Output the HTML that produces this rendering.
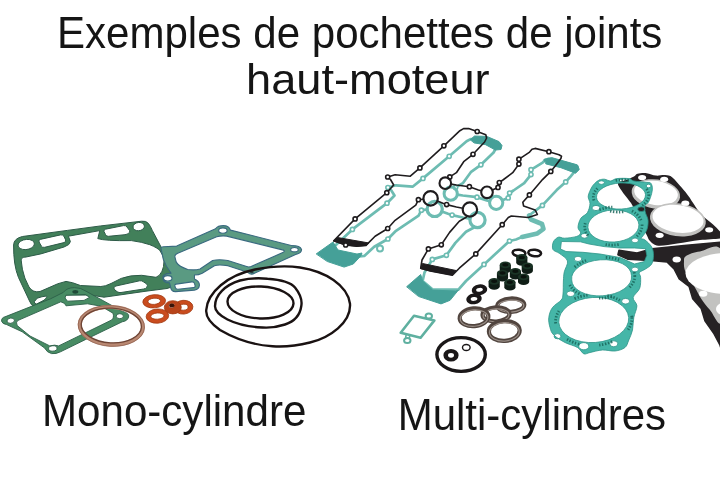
<!DOCTYPE html>
<html><head><meta charset="utf-8">
<style>
html,body{margin:0;padding:0;background:#fff;}
body{width:720px;height:490px;overflow:hidden;position:relative;font-family:"Liberation Sans",sans-serif;color:#151515;}
.t{position:absolute;white-space:nowrap;line-height:1;transform-origin:0 0;}
svg{position:absolute;left:0;top:0;filter:blur(0.3px);}
</style></head><body>
<svg width="720" height="490" viewBox="0 0 720 490">
<!--LEFT-->
<g id="left">
 <!-- base gasket (orig coords) -->
 <g fill="#42805a" stroke="#2d5a47" stroke-width="1" fill-rule="evenodd" stroke-linejoin="round">
  <path d="M13.6,245 Q13.8,238.5 22.4,236.5 L67.3,230.4 L100.8,225.9 L141.6,221.2 Q146,220.6 148.3,223.3 Q150.5,226 152.3,230.4 L162,248.8 L168,265 L172.9,279 Q174,287.5 167,288.5 L146,291.2 L109,296.5 L104,297.2 L90,295 L66,295 L42,306 Q32.5,309.5 29.5,301 L18.4,277.3 Q13.4,265 13.6,245 Z
   M21.4,262 C21,258 22,257.5 26,257 L40.8,253.9 L64,247 Q70,245 70.4,241.6 L68.4,236.2 L99.8,230.6 L97.8,238.6 Q105,241 131.4,240.6 Q142,242 149.8,244.7 Q158,248 160,250.8 Q164,256 164,261 Q164,267 162,271.2 Q160,276 156,277.3 L141.6,275.3 Q130,275 121.2,278.4 L111,283.5 Q105,286.5 100.8,286.5 L80.4,285.5 Q72,282 66,281.4 Q58,283 49,287.6 L40,291.5 Q33,293 29,287 Q24,278 22.4,269.2 Z
   M18,245 a8.2,5 -8 1,0 16.4,-1 a8.2,5 -8 1,0 -16.4,1 Z
   M40.2,239.4 L60.5,234.9 Q63,234.5 64,236.4 L65.6,239.9 Q66.3,241.9 64,242.6 L44.7,247.3 Q42.2,247.8 41.3,246 L39.1,242 Q38.3,240 40.2,239.4 Z
   M105.5,229.2 L123.5,225.6 Q126,225.2 127,227 L129.6,230.6 Q130.4,232.4 128.3,233.4 Q127.6,234.2 125,234.7 L108.5,236.3 Q106.2,236.5 105.5,234.5 L104,231.5 Q103.5,229.7 105.5,229.2 Z
   M133,227 a5.7,4.1 -8 1,0 11.4,-0.8 a5.7,4.1 -8 1,0 -11.4,0.8 Z
   M116,286 L139.6,280.8 Q142,280.4 143.4,281.8 L146.8,284 Q148,285.4 146.8,287.2 Q146,288.6 143.7,289 L121,292.5 Q118.8,292.8 117.4,291.8 L115,290.2 Q113.6,288.4 114.2,287.2 Q114.6,286.3 116,286 Z
   M163.2,278 a6,4.2 -5 1,0 12,-0.8 a6,4.2 -5 1,0 -12,0.8 Z
   M34.2,301.8 L37.2,298.2 Q42,296.4 46.6,296 Q47.4,297 44,300.2 L36.6,304 Q34.6,304 34.2,301.8 Z"/>
 </g>
 <!-- right gasket: s=4.5 off(150,215) -->
 <g transform="translate(150,215) scale(0.222222)" fill="#5a9a82" stroke="#3a6a80" stroke-width="5" fill-rule="evenodd" stroke-linejoin="round">
  <path d="M50,152 Q48,142 62,143 L120,140 L295,62 Q305,48 330,48 Q355,48 362,68 L640,138 Q675,138 682,155 Q682,170 660,176 L470,262 Q455,272 440,258 L350,228 Q310,222 290,228 L235,262 Q220,270 200,270 L200,288 Q225,300 222,318 Q220,335 200,338 L115,345 Q95,345 92,322 L88,305 Q60,305 58,285 Q56,270 75,265 L95,262 Q70,230 60,200 Z
  M112,188 Q110,178 125,172 L300,98 Q320,92 345,95 L600,158 Q610,162 600,168 L455,232 Q445,236 435,232 L350,205 Q310,198 282,205 L225,243 Q200,250 170,245 Q130,232 118,212 Z
  M309,70 a19,12 0 1,0 38,0 a19,12 0 1,0 -38,0 Z
  M633,156 a17,10 0 1,0 34,0 a17,10 0 1,0 -34,0 Z
  M61,285 a19,12 0 1,0 38,0 a19,12 0 1,0 -38,0 Z
  M118,311 L188,301 Q198,300 200,308 L203,318 Q204,326 195,327 L126,334 Q116,335 114,327 L112,319 Q111,312 118,311 Z"/>
  <ellipse cx="458" cy="257" rx="9" ry="5" fill="#2a3a40" stroke="none"/>
 </g>
 <!-- lower-left light gasket (orig coords) -->
 <g fill="#488c64" stroke="#2c5f48" stroke-width="0.9" fill-rule="evenodd" stroke-linejoin="round">
  <path d="M1.6,321.2 Q1.2,317.8 5,316.8 L50.5,298.8 L63.3,292.4 Q67,287.6 74.4,287.6 Q81,287.6 86,291.2 L122.5,311.4 Q129.6,313 128.6,317 Q127.6,321 122.2,321.8 L85.6,339.5 L60.5,351.8 Q56,354.2 51.5,353.6 Q47,352.6 44.6,348 L22.2,331.8 L6.7,324.6 Q2.2,323.8 1.6,321.2 Z
  M17.6,320.6 L60.8,301.8 L64.5,303.4 L66,305.8 L87.5,303.8 L101,306.2 L113,313.2 Q114.4,317.8 111.6,320 L82.6,334.2 L58.6,345.9 Q55,344.4 49.8,345.9 L30,336 L17.2,325.6 Q15.6,322.4 17.6,320.6 Z
  M66,295.2 L85.6,294.6 L89.5,297.4 L84,300.4 L67.5,301.2 L65,298 Z M7,321 a3.7,2.6 -10 1,0 7.4,-0.6 a3.7,2.6 -10 1,0 -7.4,0.6 Z
  M116.2,316.2 a3.6,2.5 0 1,0 7.2,0 a3.6,2.5 0 1,0 -7.2,0 Z
  M48.6,348.7 a4.2,2.7 -5 1,0 8.4,-0.5 a4.2,2.7 -5 1,0 -8.4,0.5 Z"/>
  <ellipse cx="75.3" cy="291.8" rx="3" ry="1.9" fill="#1f4a38" stroke="none"/>
 </g>
 <!-- copper ring: s=6 off(60,290) -->
 <g transform="translate(60,290) scale(0.166667)" fill="none">
  <ellipse cx="308" cy="215" rx="190" ry="113" stroke="#b98872" stroke-width="24" transform="rotate(3 308 215)"/>
  <ellipse cx="308" cy="213" rx="181" ry="104" stroke="#6f4536" stroke-width="8" transform="rotate(3 308 215)"/>
  <ellipse cx="308" cy="216" rx="199" ry="122" stroke="#8a5a48" stroke-width="4" transform="rotate(3 308 215)"/>
 </g>
 <!-- washers (orig coords) -->
 <g fill="#ca4c1e" stroke="#a23a12" stroke-width="0.8" fill-rule="evenodd">
  <path d="M174.1,307.2 a9.4,6.9 0 1,0 18.8,0 a9.4,6.9 0 1,0 -18.8,0 Z M178.9,307.2 a4.6,3.0 0 1,0 9.2,0 a4.6,3.0 0 1,0 -9.2,0 Z" transform="rotate(-4 183.5 307.2)"/>
  <path d="M164.3,307.3 a8.5,6.6 0 1,0 17.0,0 a8.5,6.6 0 1,0 -17.0,0 Z M168.8,305.8 a3,2.2 0 1,0 6.0,0 a3,2.2 0 1,0 -6.0,0 Z" fill="#b8441a"/>
  <ellipse cx="171.8" cy="305.6" rx="2.6" ry="2" fill="#3a1408" stroke="none"/>
  <path d="M142.8,301.3 a11.4,6.6 0 1,0 22.8,0 a11.4,6.6 0 1,0 -22.8,0 Z M147.9,301.3 a6.3,3.1 0 1,0 12.6,0 a6.3,3.1 0 1,0 -12.6,0 Z" transform="rotate(-5 154.2 301.3)"/>
  <path d="M146.1,316.1 a11.3,7.1 0 1,0 22.6,0 a11.3,7.1 0 1,0 -22.6,0 Z M150.8,316.1 a6.6,3.1 0 1,0 13.2,0 a6.6,3.1 0 1,0 -13.2,0 Z" transform="rotate(-4 157.4 316.1)"/>
 </g>
 <!-- o-rings: s=4 off(190,250) -->
 <g transform="translate(190,250) scale(0.25)" fill="none" stroke="#1a1212" stroke-width="9.5">
  <path d="M65,240 C70,170 150,100 260,78 C320,66 390,62 440,70 C540,85 630,140 640,215 C645,290 560,350 480,370 C420,385 370,388 330,385 C250,380 180,355 120,320 C85,295 62,270 65,240 Z"/>
  <path d="M100,225 C100,180 140,140 200,122 C240,112 280,112 310,115 C350,118 400,125 420,150 C440,175 450,200 445,225 C440,260 420,285 380,298 C350,308 320,312 290,310 C240,308 190,298 150,278 C115,260 100,245 100,225 Z"/>
  <ellipse cx="282" cy="210" rx="132" ry="64" transform="rotate(2 282 210)"/>
 </g>
</g>
<!--RIGHT-->
<g id="right">
<!--R1-->
<g id="vc-teal" stroke="#6dbcb2" fill="none" stroke-linejoin="round" stroke-linecap="round">
<path d="M329.2,251.3 L352.4,229.4 L387.0,203.2 L394.5,195.5 L391.0,190.0 L387.9,187.5 L396.0,185.3 L412.6,186.7 L423.0,178.4 L449.2,156.3 L466.6,141.2 L470.6,139.1 L476.1,139.1 L485.5,142.0 L494.9,145.2 L495.7,148.5 L493.6,152.5 L480.9,164.8 L470.8,172.2 L462.8,183.2 L455.6,187.4 L454.8,188.5 M457.3,194.7 L462.8,195.5 L477.0,197.2 L486.8,200.4 L489.8,201.2 M502.3,200.3 L508.2,197.9 L509.6,193.0 L513.5,190.5 L524.2,183.2 L531.0,174.6 L531.0,169.7 L534.9,167.3 L542.6,162.6 L545.2,159.8 L548.6,158.9 L563.7,162.2 L574.7,165.3 L577.4,166.8 L576.7,169.0 L570.7,176.3 L565.7,181.9 L556.7,190.1 L542.4,205.4 L529.0,215.5 L531.0,219.5 L542.0,224.0 L543.5,229.0 L537.4,233.4 L522.0,237.0 L516.0,239.5 L509.5,241.0 L484.0,264.4 L466.0,281.0 L458.4,289.6 L432.7,289.6 L422.6,281.0 L424.5,272.5 L432.3,259.4 L446.4,255.3 L455.4,242.9 L466.0,231.8 L473.5,227.7 L474.0,226.7 M470.0,218.7 L462.8,217.5 L452.1,215.1 L448.1,213.8 L441.8,211.5 M427.1,209.6 L421.4,210.2 L418.6,215.6 L396.0,230.8 L387.9,239.0 L374.2,246.7 L364.3,255.9 L354.3,256.8 L342.2,255.5 L329.2,251.3" stroke-width="2.7"/>
<path d="M316.5,253.7 L333,242 L338,250 L357,254 L362,253 L360.7,256 L353.3,264 L344.1,267.1 L327.6,261.6 Z" fill="#45a098" stroke="#45a098" stroke-width="1" stroke-linejoin="round"/>
<path d="M470.5,139.5 L474.5,136 L486.8,136.4 L499,141.6 L502,145.5 L501,149.5 L495.4,150 L485.6,144.7 L474.5,143 Z" fill="#45a098" stroke="#45a098" stroke-width="1" stroke-linejoin="round"/>
<path d="M544.3,159.4 L551.7,157.6 L577.4,164.9 L579.3,169.5 L575.6,173.2 L560.9,167.7 L546.2,164 Z" fill="#45a098" stroke="#45a098" stroke-width="1" stroke-linejoin="round"/>
<path d="M406.9,286.5 L420.7,274.5 L422.6,281 L429.9,287.4 L432.7,290.1 L455.7,291.1 L458.4,290.1 L450.1,300.3 L441,303.9 L418.9,296.6 Z" fill="#45a098" stroke="#45a098" stroke-width="1" stroke-linejoin="round"/>
<path d="M529,215.5 L531,219.5 L542,224 L543.5,229 L537.4,233.4 L522,237" stroke-width="4.6"/>
<circle cx="380" cy="248.4" r="3" fill="#fff" stroke-width="2"/>
<circle cx="352.4" cy="229.4" r="2.05" fill="#fff" stroke-width="1.6"/>
<circle cx="387.0" cy="203.2" r="2.05" fill="#fff" stroke-width="1.6"/>
<circle cx="387.9" cy="187.5" r="2.05" fill="#fff" stroke-width="1.6"/>
<circle cx="423.0" cy="178.4" r="2.05" fill="#fff" stroke-width="1.6"/>
<circle cx="449.2" cy="156.3" r="2.05" fill="#fff" stroke-width="1.6"/>
<circle cx="480.9" cy="164.8" r="2.05" fill="#fff" stroke-width="1.6"/>
<circle cx="455.6" cy="187.4" r="2.05" fill="#fff" stroke-width="1.6"/>
<circle cx="450.7" cy="193.7" r="6.6" stroke-width="3"/>
<circle cx="477.0" cy="197.2" r="2.05" fill="#fff" stroke-width="1.6"/>
<circle cx="496.2" cy="202.8" r="6.6" stroke-width="3"/>
<circle cx="508.2" cy="197.9" r="2.05" fill="#fff" stroke-width="1.6"/>
<circle cx="509.6" cy="193.0" r="2.05" fill="#fff" stroke-width="1.6"/>
<circle cx="531.0" cy="174.6" r="2.05" fill="#fff" stroke-width="1.6"/>
<circle cx="531.0" cy="169.7" r="2.05" fill="#fff" stroke-width="1.6"/>
<circle cx="565.7" cy="181.9" r="2.05" fill="#fff" stroke-width="1.6"/>
<circle cx="542.4" cy="205.4" r="2.05" fill="#fff" stroke-width="1.6"/>
<circle cx="509.5" cy="241.0" r="2.05" fill="#fff" stroke-width="1.6"/>
<circle cx="484.0" cy="264.4" r="2.05" fill="#fff" stroke-width="1.6"/>
<circle cx="432.3" cy="259.4" r="2.05" fill="#fff" stroke-width="1.6"/>
<circle cx="446.4" cy="255.3" r="2.05" fill="#fff" stroke-width="1.6"/>
<circle cx="477.5" cy="220.0" r="7.6" stroke-width="3.2"/>
<circle cx="452.1" cy="215.1" r="2.05" fill="#fff" stroke-width="1.6"/>
<circle cx="434.7" cy="208.9" r="7.6" stroke-width="3.2"/>
<circle cx="421.4" cy="210.2" r="2.05" fill="#fff" stroke-width="1.6"/>
<circle cx="387.9" cy="239.0" r="2.05" fill="#fff" stroke-width="1.6"/>
</g>
<g id="vc-black" stroke="#1f1c1e" fill="none" stroke-linejoin="round" stroke-linecap="round">
<path d="M333.8,240.8 L355.1,218.9 L386.8,192.7 L393.7,185.0 L390.5,179.5 L387.7,177.0 L395.1,174.8 L410.3,176.2 L419.9,167.9 L443.9,145.8 L459.9,130.7 L463.5,128.6 L468.6,128.6 L477.2,131.5 L485.8,134.7 L486.6,138.0 L484.6,142.0 L473.0,154.3 L463.7,161.7 L456.4,172.7 L449.8,176.9 L448.7,178.5 M451.0,184.1 L456.4,185.0 L469.4,186.7 L478.4,189.9 L481.4,190.7 M492.3,189.9 L498.0,187.4 L499.3,182.5 L502.9,180.0 L512.7,172.7 L518.9,164.1 L518.9,159.2 L522.5,156.8 L529.6,152.1 L532.0,149.3 L535.1,148.4 L548.9,151.7 L559.0,154.8 L561.5,156.3 L560.9,158.5 L555.4,165.8 L550.8,171.4 L542.5,179.6 L529.4,194.9 L522.8,202.2 L523.6,206.0 L535.1,209.9 L537.4,214.5 L528.2,217.5 L511.3,216.0 L508.3,217.5 L502.2,224.7 L475.8,253.9 L459.3,268.2 L452.4,275.1 L430.3,271.0 L420.7,268.2 L422.0,260.0 L428.4,248.9 L441.3,244.8 L449.6,232.4 L459.3,221.3 L466.2,217.2 L466.8,216.0 M462.8,208.2 L456.4,207.0 L446.6,204.6 L442.9,203.3 L437.3,201.1 M423.4,199.2 L418.4,199.7 L415.8,205.1 L395.1,220.3 L387.7,228.5 L375.1,236.2 L366.0,245.4 L356.8,246.3 L345.7,245.0 L333.8,240.8" stroke-width="1.6"/>
<path d="M333.8,240.8 L337.5,237.5 L369,243 L366,245.4 L356.8,246.3 L345.7,245 Z" fill="#1f1c1e" stroke-width="1"/>
<path d="M420.7,268.2 L422.5,263.5 L456,270.5 L452.4,275.1 L430.3,271 Z" fill="#1f1c1e" stroke-width="1"/>
<circle cx="355.1" cy="218.9" r="2.05" fill="#fff" stroke-width="1.6"/>
<circle cx="386.8" cy="192.7" r="2.05" fill="#fff" stroke-width="1.6"/>
<circle cx="387.7" cy="177.0" r="2.05" fill="#fff" stroke-width="1.6"/>
<circle cx="419.9" cy="167.9" r="2.05" fill="#fff" stroke-width="1.6"/>
<circle cx="443.9" cy="145.8" r="2.05" fill="#fff" stroke-width="1.6"/>
<circle cx="477.2" cy="131.5" r="2.05" fill="#fff" stroke-width="1.6"/>
<circle cx="473.0" cy="154.3" r="2.05" fill="#fff" stroke-width="1.6"/>
<circle cx="449.8" cy="176.9" r="2.05" fill="#fff" stroke-width="1.6"/>
<circle cx="445.3" cy="183.2" r="5.8" stroke-width="2.1"/>
<circle cx="469.4" cy="186.7" r="2.05" fill="#fff" stroke-width="1.6"/>
<circle cx="487.0" cy="192.3" r="5.8" stroke-width="2.1"/>
<circle cx="498.0" cy="187.4" r="2.05" fill="#fff" stroke-width="1.6"/>
<circle cx="499.3" cy="182.5" r="2.05" fill="#fff" stroke-width="1.6"/>
<circle cx="518.9" cy="164.1" r="2.05" fill="#fff" stroke-width="1.6"/>
<circle cx="518.9" cy="159.2" r="2.05" fill="#fff" stroke-width="1.6"/>
<circle cx="548.9" cy="151.7" r="2.05" fill="#fff" stroke-width="1.6"/>
<circle cx="550.8" cy="171.4" r="2.05" fill="#fff" stroke-width="1.6"/>
<circle cx="529.4" cy="194.9" r="2.05" fill="#fff" stroke-width="1.6"/>
<circle cx="502.2" cy="224.7" r="2.05" fill="#fff" stroke-width="1.6"/>
<circle cx="475.8" cy="253.9" r="2.05" fill="#fff" stroke-width="1.6"/>
<circle cx="428.4" cy="248.9" r="2.05" fill="#fff" stroke-width="1.6"/>
<circle cx="441.3" cy="244.8" r="2.05" fill="#fff" stroke-width="1.6"/>
<circle cx="469.9" cy="209.5" r="7.2" stroke-width="2.2"/>
<circle cx="446.6" cy="204.6" r="2.05" fill="#fff" stroke-width="1.6"/>
<circle cx="430.6" cy="198.4" r="7.2" stroke-width="2.2"/>
<circle cx="418.4" cy="199.7" r="2.05" fill="#fff" stroke-width="1.6"/>
<circle cx="387.7" cy="228.5" r="2.05" fill="#fff" stroke-width="1.6"/>
<circle cx="345.7" cy="245.0" r="2.05" fill="#fff" stroke-width="1.6"/>
</g>
<!--/R1-->
<!--R2-->
<g id="hg-black">
<path d="M618.0,183.0 C618.7,181.2 623.3,181.1 626.0,180.0 C628.7,178.9 632.1,177.5 634.0,176.5 C635.9,175.5 635.4,174.4 637.5,173.8 C639.6,173.2 643.6,172.9 646.7,173.2 C649.8,173.5 652.8,175.3 655.9,175.6 C659.0,175.9 662.4,174.8 665.1,175.1 C667.9,175.4 669.6,175.3 672.4,177.4 C675.1,179.5 678.8,184.3 681.6,187.5 C684.4,190.7 687.2,194.2 689.0,196.7 C690.8,199.1 690.5,199.1 692.6,202.2 C694.7,205.3 698.4,211.4 701.8,215.1 C705.2,218.8 709.4,221.2 712.8,224.3 C716.2,227.5 720.5,231.7 722.0,234.0 C723.5,236.3 725.7,237.0 722.0,238.0 C718.3,239.0 707.5,239.1 700.0,240.0 C692.5,240.9 684.2,242.6 677.3,243.5 C670.3,244.4 662.8,246.1 658.3,245.7 C653.8,245.3 651.9,242.8 650.0,241.0 C648.1,239.2 648.4,238.2 646.7,235.0 C645.0,231.8 642.3,226.8 640.0,222.0 C637.7,217.2 634.5,209.6 632.7,206.0 C630.9,202.4 630.8,203.1 629.0,200.6 C627.2,198.1 623.5,193.7 621.7,190.8 C619.9,187.9 617.3,184.8 618.0,183.0 Z" fill="#262224"/>
<ellipse cx="656" cy="194" rx="24.4" ry="14.6" fill="#c2c2c0" transform="rotate(8 656 193)"/>
<ellipse cx="656" cy="193" rx="22" ry="12" fill="#fff" transform="rotate(8 656 193)"/>
<ellipse cx="678" cy="219.8" rx="28.099999999999998" ry="16.400000000000002" fill="#c2c2c0" transform="rotate(8 678 218.8)"/>
<ellipse cx="678" cy="218.8" rx="25.7" ry="13.8" fill="#fff" transform="rotate(8 678 218.8)"/>
<ellipse cx="642.1" cy="177.6" rx="4" ry="2.6" fill="#fff"/>
<ellipse cx="664.2" cy="179.3" rx="4" ry="2.6" fill="#fff"/>
<ellipse cx="685.3" cy="203.2" rx="4" ry="2.6" fill="#fff"/>
<ellipse cx="709.2" cy="229.8" rx="4" ry="2.6" fill="#fff"/>
<ellipse cx="659.6" cy="235.3" rx="4" ry="2.6" fill="#fff"/>
<path d="M619,250.2 L637,253 L652,248.8 L684.1,245.6 L722,242 L722,352 L720,345.2 L713.5,333 L704.9,320.7 L701.2,308.5 L692.7,298.7 L689,286.4 L679.2,279 L674.3,269.3 L667,262 L653.5,260.7 L628,259.2 L617.9,254.7 Z" fill="#262224" stroke="#262224" stroke-width="1.5" stroke-linejoin="round"/>
<path d="M686.0,256.0 C683.3,257.8 684.2,259.8 684.0,262.0 C683.8,264.2 683.9,266.6 684.5,269.0 C685.1,271.4 686.0,273.5 687.8,276.6 C689.6,279.7 692.9,284.0 695.1,287.7 C697.3,291.4 698.8,295.0 701.2,298.7 C703.7,302.4 706.3,306.0 709.8,309.7 C713.3,313.4 720.0,330.6 722.0,321.0 C724.0,311.4 725.7,263.6 722.0,252.0 C718.3,240.4 706.0,250.8 700.0,251.5 C694.0,252.2 688.7,254.2 686.0,256.0 Z" fill="#c2c2c0"/>
<ellipse cx="727" cy="273.5" rx="41.5" ry="20.5" fill="#fff"/>
<ellipse cx="736" cy="309" rx="20" ry="9" fill="#fff"/>
<ellipse cx="676.7" cy="259.5" rx="4.2" ry="3" fill="#fff"/>
<ellipse cx="703.2" cy="293.8" rx="4.2" ry="3" fill="#fff"/>
</g>
<g id="hg-teal">
<path d="M598.3,180.6 C598.9,180.2 598.6,180.0 599.6,179.8 C600.6,179.6 602.7,179.0 604.5,179.2 C606.3,179.4 608.6,181.1 610.6,181.0 C612.6,180.9 613.7,179.0 616.8,178.6 C619.9,178.2 626.1,178.2 629.0,178.6 C631.9,179.0 631.0,180.4 633.9,181.0 C636.8,181.6 643.4,182.0 646.2,182.3 C649.0,182.6 649.5,182.1 650.5,182.9 C651.5,183.7 652.1,185.5 652.3,187.2 C652.5,188.9 652.3,190.9 651.7,193.3 C651.1,195.8 649.7,199.9 648.6,201.9 C647.5,203.9 645.6,203.8 645.0,205.5 C644.4,207.2 644.7,209.5 645.2,211.9 C645.7,214.3 647.7,217.2 648.0,220.1 C648.3,223.0 647.9,226.5 647.0,229.3 C646.1,232.1 643.4,235.2 642.4,236.7 C641.4,238.2 640.6,237.9 641.0,238.5 C641.4,239.1 643.2,238.6 645.0,240.0 C646.8,241.4 650.3,244.4 651.7,247.0 C653.1,249.6 653.5,252.6 653.5,255.4 C653.5,258.2 653.0,261.7 651.7,264.0 C650.4,266.3 647.5,267.6 645.5,269.0 C643.5,270.4 640.2,271.2 639.4,272.6 C638.6,274.0 640.5,274.7 640.6,277.3 C640.7,279.9 640.9,284.9 639.7,288.3 C638.5,291.7 633.7,294.6 633.2,297.5 C632.7,300.4 636.8,302.5 636.9,305.8 C637.0,309.1 634.5,313.5 633.8,317.5 C633.0,321.5 633.3,326.2 632.5,330.0 C631.7,333.8 630.0,337.1 628.8,340.0 C627.5,342.9 627.3,345.7 625.0,347.5 C622.7,349.3 618.8,350.6 615.0,351.0 C611.2,351.4 606.7,349.8 602.5,350.0 C598.3,350.2 593.1,351.9 590.0,352.5 C586.9,353.1 585.8,354.6 583.8,353.8 C581.7,352.9 580.6,349.4 577.5,347.5 C574.4,345.6 569.0,344.6 565.0,342.5 C561.0,340.4 556.2,337.5 553.8,335.0 C551.2,332.5 550.8,330.4 550.0,327.5 C549.2,324.6 548.3,320.8 548.8,317.5 C549.2,314.2 550.4,310.4 552.5,307.5 C554.6,304.6 559.5,302.2 561.2,300.0 C563.0,297.8 562.6,297.2 563.0,294.0 C563.4,290.8 563.2,284.7 563.4,281.0 C563.6,277.3 563.6,275.1 564.3,271.8 C565.0,268.5 568.3,264.1 567.5,261.0 C566.7,257.9 562.0,255.4 559.6,253.5 C557.2,251.6 554.0,251.5 553.0,249.6 C552.0,247.7 552.4,244.1 553.3,242.0 C554.2,239.9 556.5,237.8 558.4,237.2 C560.3,236.6 561.4,238.3 564.5,238.2 C567.6,238.1 574.1,237.3 576.8,236.4 C579.5,235.5 580.4,234.3 580.6,232.8 C580.8,231.3 578.0,229.9 578.0,227.5 C578.0,225.1 579.2,220.8 580.8,218.3 C582.3,215.9 585.8,215.2 587.3,212.8 C588.8,210.4 589.9,206.4 590.0,203.6 C590.1,200.8 587.9,199.0 588.2,196.2 C588.5,193.5 590.6,189.3 591.9,187.0 C593.2,184.7 594.8,183.4 595.9,182.3 C597.0,181.2 597.7,181.0 598.3,180.6 Z M596.5,197.3 A24.5,13 -3 1,0 645.5,194.7 A24.5,13 -3 1,0 596.5,197.3 Z M587.9,227.3 A25.5,16 -3 1,0 638.9,224.7 A25.5,16 -3 1,0 587.9,227.3 Z M571.7,279.9 A30,17.3 -4 1,0 631.5,275.7 A30,17.3 -4 1,0 571.7,279.9 Z M558.8,322.4 A35,22.5 -4 1,0 628.7,317.6 A35,22.5 -4 1,0 558.8,322.4 Z M592.0,208.0 A4,2.6 0 1,0 600.0,208.0 A4,2.6 0 1,0 592.0,208.0 Z M637.7,209.2 A3.6,2.4 0 1,0 644.9,209.2 A3.6,2.4 0 1,0 637.7,209.2 Z M598.4,182.6 A3,1.8 0 1,0 604.4,182.6 A3,1.8 0 1,0 598.4,182.6 Z M619.0,180.6 A5,1.6 0 1,0 629.0,180.6 A5,1.6 0 1,0 619.0,180.6 Z M646.2,186.0 A2.4,1.8 0 1,0 651.0,186.0 A2.4,1.8 0 1,0 646.2,186.0 Z M580.9,235.8 A3.6,2.4 0 1,0 588.1,235.8 A3.6,2.4 0 1,0 580.9,235.8 Z M631.6,240.4 A3.4,2.4 0 1,0 638.4,240.4 A3.4,2.4 0 1,0 631.6,240.4 Z M574.2,258.9 A3.8,2.6 0 1,0 581.8,258.9 A3.8,2.6 0 1,0 574.2,258.9 Z M631.6,269.5 A3.4,2.4 0 1,0 638.4,269.5 A3.4,2.4 0 1,0 631.6,269.5 Z M566.6,293.8 A4,2.8 0 1,0 574.6,293.8 A4,2.8 0 1,0 566.6,293.8 Z M621.6,301.2 A4,2.8 0 1,0 629.6,301.2 A4,2.8 0 1,0 621.6,301.2 Z M554.1,336.2 A3.4,2.6 0 1,0 560.9,336.2 A3.4,2.6 0 1,0 554.1,336.2 Z M578.8,346.2 A5,3.6 0 1,0 588.8,346.2 A5,3.6 0 1,0 578.8,346.2 Z M609.8,343.8 A4,3 0 1,0 617.8,343.8 A4,3 0 1,0 609.8,343.8 Z M561.4,241.5 L580.4,241.8 L589,244 L604,246.6 L620,248 L634.5,248 L645.5,248.7 L646.8,255.4 L644.3,261.6 L634.5,264 L620,257.5 L600,254 L582.9,252.3 L566,251.5 L560.5,249 Z" fill="#45b6a8" fill-rule="evenodd" stroke="#2c9488" stroke-width="0.8" stroke-linejoin="round"/>
<ellipse cx="621" cy="196" rx="27.7" ry="16" transform="rotate(-3 621 196)" fill="none" stroke="#1a665a" stroke-width="2.8" stroke-dasharray="1.5 1.7 1.3 1.5 1.5 1.6 1.4 1.5 1.3 20" opacity="0.85"/>
<ellipse cx="613.4" cy="226" rx="28.7" ry="19" transform="rotate(-3 613.4 226)" fill="none" stroke="#1a665a" stroke-width="2.8" stroke-dasharray="1.5 1.7 1.3 1.5 1.5 1.6 1.4 1.5 1.3 20" opacity="0.85"/>
<ellipse cx="601.6" cy="277.8" rx="33.2" ry="20.3" transform="rotate(-4 601.6 277.8)" fill="none" stroke="#1a665a" stroke-width="2.8" stroke-dasharray="1.5 1.7 1.3 1.5 1.5 1.6 1.4 1.5 1.3 20" opacity="0.85"/>
<ellipse cx="593.75" cy="320" rx="38.2" ry="25.5" transform="rotate(-4 593.75 320)" fill="none" stroke="#1a665a" stroke-width="2.8" stroke-dasharray="1.5 1.7 1.3 1.5 1.5 1.6 1.4 1.5 1.3 20" opacity="0.85"/>
</g>
<!--/R2-->
<!--R3-->
<g id="small-items">
<g fill="none" stroke="#5fb0a0" stroke-linejoin="round">
<path d="M414,315.8 L434.4,320.4 L420.6,337.8 L400.7,332.7 Z" stroke-width="2.6"/>
<ellipse cx="428.8" cy="315.9" rx="3.2" ry="2.5" stroke-width="2" fill="#fff"/>
<path d="M406.2,334.5 L405.6,338 M409.8,335.2 L409.4,338" stroke-width="1.6"/>
<ellipse cx="407.3" cy="340.4" rx="3.2" ry="2.5" stroke-width="2" fill="#fff"/>
</g>
<ellipse cx="461.1" cy="354.5" rx="24.2" ry="16.9" fill="none" stroke="#1a1718" stroke-width="3.4"/>
<path d="M443.4,355.3 a7.6,6.3 0 1,0 15.2,0 a7.6,6.3 0 1,0 -15.2,0 Z M448.0,355.3 a3,2.4 0 1,0 6.0,0 a3,2.4 0 1,0 -6.0,0 Z" fill="#1a1718" fill-rule="evenodd"/>
<ellipse cx="466.3" cy="347.5" rx="3.8" ry="3" fill="none" stroke="#1a1718" stroke-width="1.4"/>
<path d="M471.7,289.8 a7.8,5.4 0 1,0 15.6,0 a7.8,5.4 0 1,0 -15.6,0 Z M476.1,289.8 a3.4,1.9 0 1,0 6.8,0 a3.4,1.9 0 1,0 -6.8,0 Z" fill="#1a1718" fill-rule="evenodd" transform="rotate(-8 479.5 289.8)"/>
<path d="M466.2,298.9 a7.8,5.4 0 1,0 15.6,0 a7.8,5.4 0 1,0 -15.6,0 Z M470.6,298.9 a3.4,1.9 0 1,0 6.8,0 a3.4,1.9 0 1,0 -6.8,0 Z" fill="#1a1718" fill-rule="evenodd" transform="rotate(-8 474 298.9)"/>
<ellipse cx="519" cy="253" rx="6.4" ry="3.3" fill="none" stroke="#1a1718" stroke-width="2.5" transform="rotate(6 519 253)"/>
<ellipse cx="534.7" cy="253" rx="6.4" ry="3.3" fill="none" stroke="#1a1718" stroke-width="2.5" transform="rotate(6 534.7 253)"/>
<g transform="rotate(-3 510.8 305.2)"><ellipse cx="510.8" cy="305.2" rx="13.5" ry="6.700000000000001" fill="none" stroke="#51453f" stroke-width="4.2"/><ellipse cx="510.8" cy="306.09999999999997" rx="13.0" ry="6.000000000000001" fill="none" stroke="#9a8f88" stroke-width="1.2"/></g>
<g transform="rotate(-3 496 314.4)"><ellipse cx="496" cy="314.4" rx="13.5" ry="7.1" fill="none" stroke="#51453f" stroke-width="4.2"/><ellipse cx="496" cy="315.29999999999995" rx="13.0" ry="6.3999999999999995" fill="none" stroke="#9a8f88" stroke-width="1.2"/></g>
<g transform="rotate(-5 474 317.2)"><ellipse cx="474" cy="317.2" rx="14.4" ry="8.9" fill="none" stroke="#51453f" stroke-width="4.2"/><ellipse cx="474" cy="318.09999999999997" rx="13.9" ry="8.2" fill="none" stroke="#9a8f88" stroke-width="1.2"/></g>
<g transform="rotate(-3 504.3 331)"><ellipse cx="504.3" cy="331" rx="15.4" ry="9.9" fill="none" stroke="#51453f" stroke-width="4.2"/><ellipse cx="504.3" cy="331.9" rx="14.9" ry="9.2" fill="none" stroke="#9a8f88" stroke-width="1.2"/></g>
<path d="M516.1999999999999,257.59999999999997 L516.1999999999999,262.4 A5.6,3.4 0 0,0 527.4,262.4 L527.4,257.59999999999997 Z" fill="#0f1d16"/>
<ellipse cx="521.8" cy="257.5" rx="5.6" ry="3.4" fill="#1a3325"/>
<ellipse cx="521.8" cy="257.4" rx="3" ry="1.7" fill="#0a120d"/>
<path d="M499.7,265.0 L499.7,269.8 A5.6,3.4 0 0,0 510.90000000000003,269.8 L510.90000000000003,265.0 Z" fill="#0f1d16"/>
<ellipse cx="505.3" cy="264.90000000000003" rx="5.6" ry="3.4" fill="#1a3325"/>
<ellipse cx="505.3" cy="264.8" rx="3" ry="1.7" fill="#0a120d"/>
<path d="M521.6999999999999,265.9 L521.6999999999999,270.7 A5.6,3.4 0 0,0 532.9,270.7 L532.9,265.9 Z" fill="#0f1d16"/>
<ellipse cx="527.3" cy="265.8" rx="5.6" ry="3.4" fill="#1a3325"/>
<ellipse cx="527.3" cy="265.7" rx="3" ry="1.7" fill="#0a120d"/>
<path d="M509.79999999999995,271.4 L509.79999999999995,276.2 A5.6,3.4 0 0,0 521.0,276.2 L521.0,271.4 Z" fill="#0f1d16"/>
<ellipse cx="515.4" cy="271.3" rx="5.6" ry="3.4" fill="#1a3325"/>
<ellipse cx="515.4" cy="271.2" rx="3" ry="1.7" fill="#0a120d"/>
<path d="M496.9,273.2 L496.9,278 A5.6,3.4 0 0,0 508.1,278 L508.1,273.2 Z" fill="#0f1d16"/>
<ellipse cx="502.5" cy="273.1" rx="5.6" ry="3.4" fill="#1a3325"/>
<ellipse cx="502.5" cy="273" rx="3" ry="1.7" fill="#0a120d"/>
<path d="M518.0,276.9 L518.0,281.7 A5.6,3.4 0 0,0 529.2,281.7 L529.2,276.9 Z" fill="#0f1d16"/>
<ellipse cx="523.6" cy="276.8" rx="5.6" ry="3.4" fill="#1a3325"/>
<ellipse cx="523.6" cy="276.7" rx="3" ry="1.7" fill="#0a120d"/>
<path d="M488.59999999999997,281.5 L488.59999999999997,286.3 A5.6,3.4 0 0,0 499.8,286.3 L499.8,281.5 Z" fill="#0f1d16"/>
<ellipse cx="494.2" cy="281.40000000000003" rx="5.6" ry="3.4" fill="#1a3325"/>
<ellipse cx="494.2" cy="281.3" rx="3" ry="1.7" fill="#0a120d"/>
<path d="M504.29999999999995,282.4 L504.29999999999995,287.2 A5.6,3.4 0 0,0 515.5,287.2 L515.5,282.4 Z" fill="#0f1d16"/>
<ellipse cx="509.9" cy="282.3" rx="5.6" ry="3.4" fill="#1a3325"/>
<ellipse cx="509.9" cy="282.2" rx="3" ry="1.7" fill="#0a120d"/>
</g>
<!--/R3-->
</g><!--ENDRIGHT-->
</svg>
<div class="t" id="t1" style="left:57px;top:11px;font-size:42.05px;transform:scaleY(1.058);">Exemples de pochettes de joints</div>
<div class="t" id="t2" style="left:246px;top:57.5px;font-size:45.2px;transform:scaleY(0.95);">haut-moteur</div>
<div class="t" id="t3" style="left:42px;top:390px;font-size:42.1px;transform:scaleY(1.04);">Mono-cylindre</div>
<div class="t" id="t4" style="left:397.7px;top:394px;font-size:42px;transform:scaleY(1.04);">Multi-cylindres</div>
</body></html>
